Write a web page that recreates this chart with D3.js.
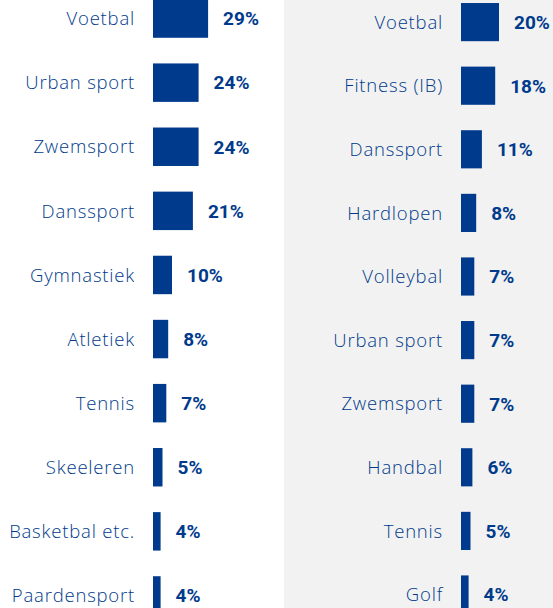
<!DOCTYPE html>
<html>
<head>
<meta charset="utf-8">
<script src="https://cdn.jsdelivr.net/npm/d3@7"></script>
<style>
  body { margin: 0; background: #fff; }
  svg { display: block; }
</style>
</head>
<body>
<div id="chart"></div>
<script>
const WIDTH = 553
const HEIGHT = 608
const BLUE = "#003a8c"

// links: jeugd
const leftSports = ["Voetbal", "Urban sport", "Zwemsport", "Danssport", "Gymnastiek",
                    "Atletiek", "Tennis", "Skeeleren", "Basketbal etc.", "Paardensport"]
const leftValues = [29, 24, 24, 21, 10, 8, 7, 5, 4, 4]

// rechts: volwassenen
const rightSports = ["Voetbal", "Fitness (IB)", "Danssport", "Hardlopen", "Volleybal",
                     "Urban sport", "Zwemsport", "Handbal", "Tennis", "Golf"]
const rightValues = [20, 18, 11, 8, 7, 7, 7, 6, 5, 4]

const svg = d3.select("#chart")
    .append("svg")
    .attr("width", WIDTH)
    .attr("height", HEIGHT)

// grijze achtergrond rechter paneel
svg.append("rect")
    .attr("x", 284)
    .attr("y", 0)
    .attr("width", WIDTH - 284)
    .attr("height", HEIGHT)
    .attr("fill", "#f2f2f2")

let x = d3.scaleLinear().domain([0, 30]).range([0, 57])

function draw_panel(names, values, barX, yRange) {
    let data = names.map((n, i) => ({name: n, value: values[i]}))
    let y = d3.scaleBand()
        .domain(names)
        .range(yRange)
        .paddingInner(0.4)
        .paddingOuter(0.2)

    let g = svg.append("g")

    g.selectAll("rect.bar")
        .data(data)
        .enter()
        .append("rect")
        .attr("class", "bar")
        .attr("x", barX)
        .attr("y", d => y(d.name))
        .attr("width", d => x(d.value))
        .attr("height", y.bandwidth())
        .attr("fill", BLUE)

    g.selectAll("text.name")
        .data(data)
        .enter()
        .append("text")
        .attr("class", "name")
        .attr("x", barX - 18)
        .attr("y", d => y(d.name) + y.bandwidth() / 2)
        .attr("dy", "0.36em")
        .attr("text-anchor", "end")
        .attr("font-family", "'Open Sans', sans-serif")
        .attr("font-weight", 300)
        .attr("font-size", 18.5)
        .attr("letter-spacing", 0.8)
        .attr("fill", BLUE)
        .text(d => d.name)

    g.selectAll("text.val")
        .data(data)
        .enter()
        .append("text")
        .attr("class", "val")
        .attr("x", d => barX + x(d.value) + 15)
        .attr("y", d => y(d.name) + y.bandwidth() / 2)
        .attr("dy", "0.36em")
        .attr("font-family", "Roboto, sans-serif")
        .attr("font-weight", 700)
        .attr("font-size", 19)
        .attr("fill", BLUE)
        .text(d => d.value + "%")
}

draw_panel(leftSports, leftValues, 153, [-13.5, 627.5])
draw_panel(rightSports, rightValues, 461, [-9.7, 626.3])
</script>
</body>
</html>
